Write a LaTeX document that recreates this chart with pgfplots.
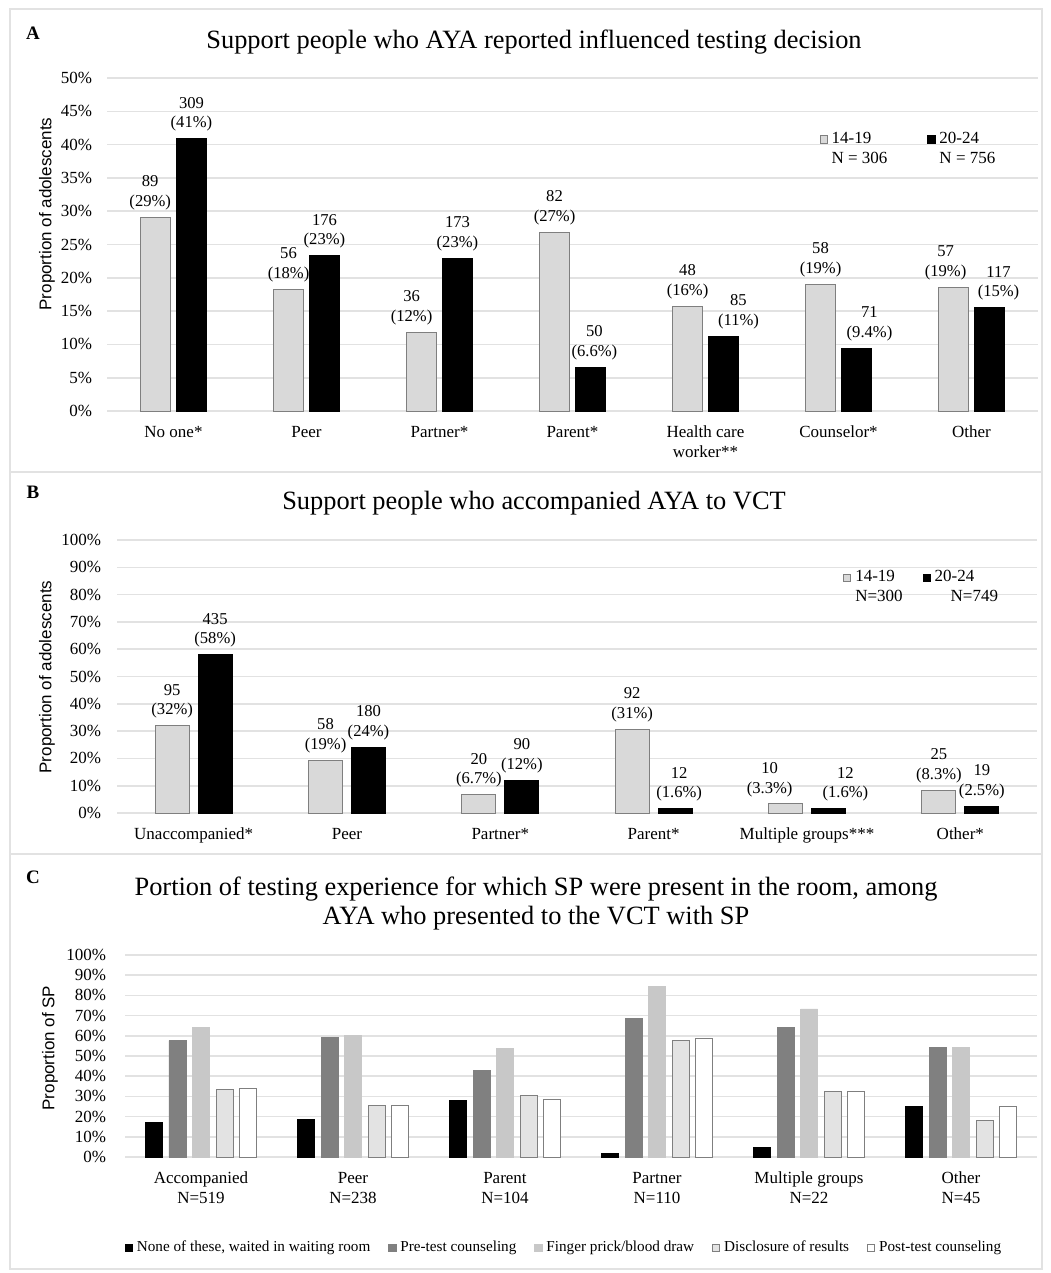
\documentclass[border=0pt]{standalone}
\usepackage{fontspec}
\setmainfont{Liberation Serif}
\setsansfont{Liberation Sans}
\usepackage{pgfplots}
\pgfplotsset{compat=1.18}
\definecolor{lgray}{HTML}{D9D9D9}
\definecolor{mgray}{HTML}{808080}
\definecolor{fgray}{HTML}{C8C8C8}
\definecolor{dgray}{HTML}{E3E3E3}
\definecolor{gridc}{HTML}{E2E2E2}
\definecolor{edge}{HTML}{7F7F7F}
\pgfplotsset{
  panel/.style={
    scale only axis, anchor=south west,
    axis line style={draw=none},
    major tick length=0pt,
    ymin=0, xmin=-0.5,
    ymajorgrids, grid style={draw=gridc, line width=0.8pt},
    yticklabel={\pgfmathparse{int(round(\tick))}\pgfmathresult\%},
    tick label style={font=\fontsize{8.5}{10}\selectfont},
    xticklabel style={align=center},
    xticklabel shift=4pt,
    clip=false,
  },
  sqleg/.style={legend image code/.code={\draw[##1,line width=0.4pt] (0pt,0pt) rectangle (3.6pt,3.6pt);}},
  vlab/.style={draw=none, forget plot, nodes near coords, point meta=explicit symbolic,
    every node near coord/.append style={anchor=south, align=center, inner sep=0pt, yshift=3.5pt,
      font=\fontsize{8.3}{9.8}\selectfont, text=black}},
}
\begin{document}
\begin{tikzpicture}
\path[use as bounding box] (0pt,0pt) rectangle (525pt,-636.5pt);
\draw[gridc, line width=0.6pt] (5pt,-4.5pt) rectangle (521pt,-634.5pt);
\draw[gridc, line width=0.6pt] (5pt,-236pt) -- (521pt,-236pt);
\draw[gridc, line width=0.6pt] (5pt,-427pt) -- (521pt,-427pt);

% ---------------- Panel A
\node[font=\bfseries\fontsize{9.5}{11}\selectfont] at (16.5pt,-16.5pt) {A};
\node[font=\fontsize{13.2}{15}\selectfont] at (267pt,-21pt) {Support people who AYA reported influenced testing decision};
\node[rotate=90, font=\sffamily\fontsize{8.5}{10}\selectfont] at (23.5pt,-107pt) {Proportion of adolescents};
\begin{axis}[panel, at={(53.5pt,-205.5pt)}, width=465.5pt, height=166.5pt,
  xmax=6.5, ymax=50, ytick={0,5,...,50}, xtick={0,...,6},
  yticklabel shift=4pt,
  xticklabels={No one*, Peer, Partner*, Parent*, {Health care\\worker**}, Counselor*, Other},
  legend style={at={(rel axis cs:0.765,0.86)}, anchor=north west, draw=none, fill=none,
    legend columns=2, font=\fontsize{8.5}{10}\selectfont, inner sep=0pt,
    cells={anchor=base west},
    /tikz/every even column/.append style={column sep=18pt}},
]
\addplot[ybar, bar width=15pt, bar shift=-9pt, fill=lgray, draw=edge, line width=0.5pt, sqleg]
  coordinates {(0,29.1) (1,18.3) (2,11.8) (3,26.8) (4,15.7) (5,19.0) (6,18.6)};
\addlegendentry{\begin{tabular}[t]{@{}l@{}}14-19\\N = 306\end{tabular}}
\addplot[ybar, bar width=15pt, bar shift=9pt, fill=black, draw=black, line width=0.5pt, sqleg]
  coordinates {(0,40.9) (1,23.3) (2,22.9) (3,6.6) (4,11.2) (5,9.4) (6,15.5)};
\addlegendentry{\begin{tabular}[t]{@{}l@{}}20-24\\N = 756\end{tabular}}
\addplot[vlab] coordinates {
  (-0.175,29.1) [{89\\(29\%)}]
  (0.135,40.9) [{309\\(41\%)}]
  (0.865,18.3) [{56\\(18\%)}]
  (1.135,23.3) [{176\\(23\%)}]
  (1.79,11.8) [{36\\(12\%)}]
  (2.135,22.9) [{173\\(23\%)}]
  (2.865,26.8) [{82\\(27\%)}]
  (3.165,6.6) [{50\\(6.6\%)}]
  (3.865,15.7) [{48\\(16\%)}]
  (4.248,11.2) [{85\\(11\%)}]
  (4.865,19.0) [{58\\(19\%)}]
  (5.233,9.4) [{71\\(9.4\%)}]
  (5.805,18.6) [{57\\(19\%)}]
  (6.203,15.5) [{117\\(15\%)}]
};
\end{axis}

% ---------------- Panel B
\node[font=\bfseries\fontsize{9.5}{11}\selectfont] at (16.5pt,-246pt) {B};
\node[font=\fontsize{13.2}{15}\selectfont] at (267pt,-251.5pt) {Support people who accompanied AYA to VCT};
\node[rotate=90, font=\sffamily\fontsize{8.5}{10}\selectfont] at (23.5pt,-338.5pt) {Proportion of adolescents};
\begin{axis}[panel, at={(58.5pt,-406.5pt)}, width=460pt, height=136.5pt,
  xmax=5.5, ymax=100, ytick={0,10,...,100}, xtick={0,...,5},
  yticklabel shift=4.5pt,
  xticklabels={Unaccompanied*, Peer, Partner*, Parent*, Multiple groups***, Other*},
  legend style={at={(rel axis cs:0.789,0.915)}, anchor=north west, draw=none, fill=none,
    legend columns=2, font=\fontsize{8.5}{10}\selectfont, inner sep=0pt,
    cells={anchor=base west},
    /tikz/every even column/.append style={column sep=8pt}},
]
\addplot[ybar, bar width=17pt, bar shift=-10.75pt, fill=lgray, draw=edge, line width=0.5pt, sqleg]
  coordinates {(0,32) (1,19.3) (2,6.7) (3,30.7) (4,3.3) (5,8.3)};
\addlegendentry{\begin{tabular}[t]{@{}l@{}}14-19\\N=300\end{tabular}}
\addplot[ybar, bar width=17pt, bar shift=10.75pt, fill=black, draw=black, line width=0.5pt, sqleg]
  coordinates {(0,58) (1,24) (2,12) (3,1.6) (4,1.6) (5,2.5)};
\addlegendentry{\begin{tabular}[t]{@{}l@{}}20-24\\\hspace{8pt}N=749\end{tabular}}
\addplot[vlab] coordinates {
  (-0.14,32) [{95\\(32\%)}]
  (0.14,58) [{435\\(58\%)}]
  (0.86,19.3) [{58\\(19\%)}]
  (1.14,24) [{180\\(24\%)}]
  (1.86,6.7) [{20\\(6.7\%)}]
  (2.14,12) [{90\\(12\%)}]
  (2.86,30.7) [{92\\(31\%)}]
  (3.166,1.6) [{12\\(1.6\%)}]
  (3.756,3.3) [{10\\(3.3\%)}]
  (4.25,1.6) [{12\\(1.6\%)}]
  (4.86,8.3) [{25\\(8.3\%)}]
  (5.14,2.5) [{19\\(2.5\%)}]
};
\end{axis}

% ---------------- Panel C
\node[font=\bfseries\fontsize{9.5}{11}\selectfont] at (16.5pt,-438.5pt) {C};
\node[align=center, font=\fontsize{13.2}{14.5}\selectfont] at (268pt,-452pt) {Portion of testing experience for which SP were present in the room, among\\AYA who presented to the VCT with SP};
\node[rotate=90, font=\sffamily\fontsize{8.5}{10}\selectfont] at (25pt,-524pt) {Proportion of SP};
\begin{axis}[panel, at={(62.5pt,-578.5pt)}, width=456pt, height=101pt,
  xmax=5.5, ymax=100, ytick={0,10,...,100}, xtick={0,...,5},
  yticklabel shift=6pt,
  xticklabels={{Accompanied\\N=519}, {Peer\\N=238}, {Parent\\N=104}, {Partner\\N=110}, {Multiple groups\\N=22}, {Other\\N=45}},
  xticklabel style={font=\fontsize{8.5}{10}\selectfont},
  legend style={at={(rel axis cs:0.4825,-0.45)}, anchor=center, draw=none, fill=none,
    legend columns=5, font=\fontsize{7.6}{9}\selectfont, inner sep=0pt,
    cells={anchor=base west},
    /tikz/every even column/.append style={column sep=7pt}},
]
\addplot[ybar, bar width=8.5pt, bar shift=-23.5pt, fill=black, draw=black, line width=0.4pt, sqleg]
  coordinates {(0,17) (1,18.8) (2,28.2) (3,1.7) (4,4.7) (5,25)};
\addlegendentry{None of these, waited in waiting room}
\addplot[ybar, bar width=8.5pt, bar shift=-11.75pt, fill=mgray, draw=mgray, line width=0.4pt, sqleg]
  coordinates {(0,57.6) (1,59) (2,43) (3,68.5) (4,64.2) (5,54.2)};
\addlegendentry{Pre-test counseling}
\addplot[ybar, bar width=8.5pt, bar shift=0pt, fill=fgray, draw=fgray, line width=0.4pt, sqleg]
  coordinates {(0,64.2) (1,60.4) (2,53.7) (3,84.3) (4,73.3) (5,54.2)};
\addlegendentry{Finger prick/blood draw}
\addplot[ybar, bar width=8.5pt, bar shift=11.75pt, fill=dgray, draw=edge, line width=0.5pt, sqleg]
  coordinates {(0,33.3) (1,25.7) (2,30.3) (3,57.9) (4,32.5) (5,18.3)};
\addlegendentry{Disclosure of results}
\addplot[ybar, bar width=8.5pt, bar shift=23.5pt, fill=white, draw=edge, line width=0.5pt, sqleg]
  coordinates {(0,33.8) (1,25.7) (2,28.3) (3,58.6) (4,32.5) (5,25)};
\addlegendentry{Post-test counseling}
\end{axis}
\end{tikzpicture}
\end{document}
